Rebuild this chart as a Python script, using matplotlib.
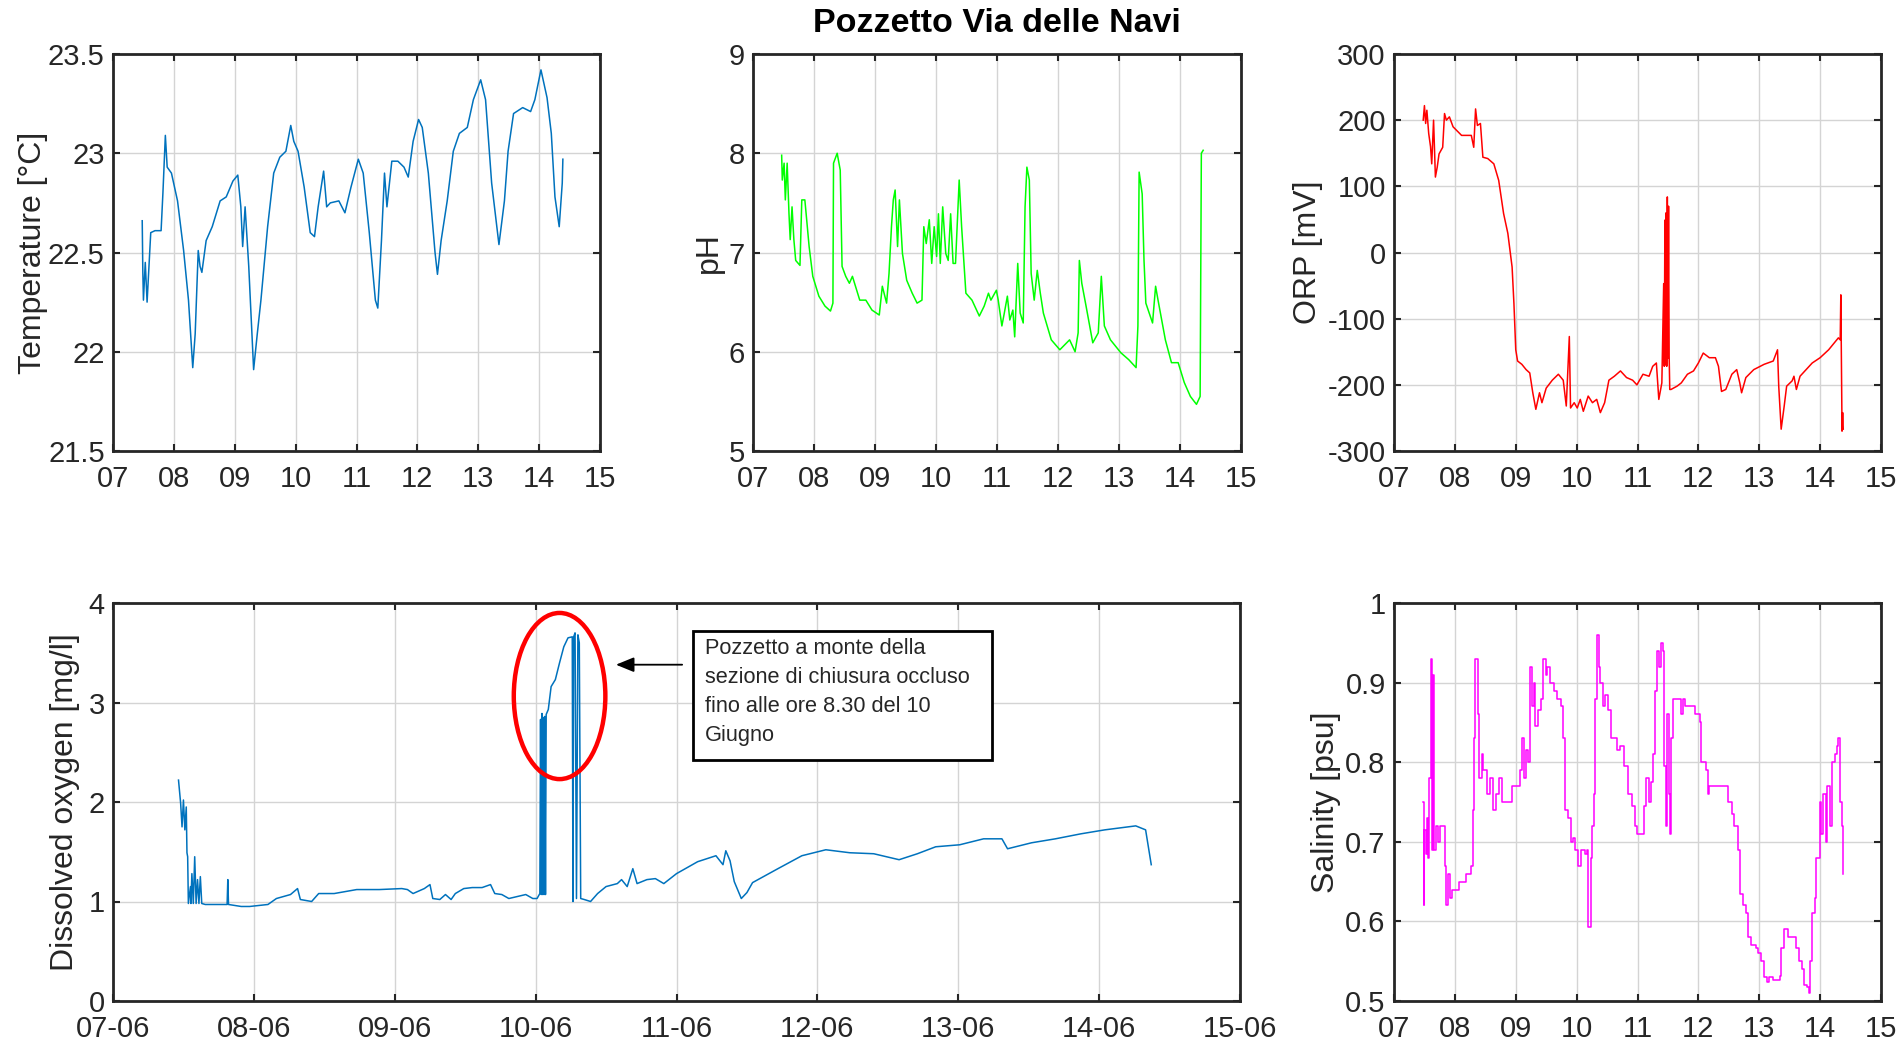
import matplotlib
matplotlib.use("Agg")
import matplotlib.pyplot as plt
from matplotlib.ticker import FuncFormatter, MultipleLocator
from matplotlib.patches import Ellipse, Rectangle

plt.rcParams.update({
    "font.family": ["Liberation Sans", "DejaVu Sans"],
    "axes.edgecolor": "#262626",
    "axes.linewidth": 2.0,
    "xtick.color": "#262626",
    "ytick.color": "#262626",
    "xtick.direction": "in",
    "ytick.direction": "in",
    "xtick.top": True,
    "ytick.right": True,
    "xtick.major.size": 5,
    "ytick.major.size": 5,
    "xtick.major.width": 1.5,
    "ytick.major.width": 1.5,
    "xtick.labelsize": 21,
    "ytick.labelsize": 21,
    "axes.labelsize": 23,
    "axes.labelcolor": "#262626",
})

# --- Data (time in days of June) ---
t_temp = [7.48, 7.49, 7.50, 7.53, 7.56, 7.62, 7.69, 7.79, 7.82, 7.86, 7.89, 7.96, 8.06, 8.16,
          8.24, 8.31, 8.35, 8.40, 8.43, 8.46, 8.53, 8.63, 8.76, 8.86, 8.97, 9.05, 9.10, 9.13,
          9.17, 9.23, 9.31, 9.37, 9.43, 9.54, 9.64, 9.74, 9.84, 9.92, 9.97, 10.04, 10.14,
          10.24, 10.31, 10.37, 10.46, 10.51, 10.57, 10.71, 10.81, 10.91, 11.03, 11.11, 11.21,
          11.31, 11.35, 11.41, 11.46, 11.50, 11.58, 11.68, 11.78, 11.85, 11.93, 12.02, 12.08,
          12.18, 12.29, 12.33, 12.39, 12.49, 12.59, 12.69, 12.82, 12.92, 13.04, 13.12, 13.22,
          13.34, 13.43, 13.49, 13.58, 13.73, 13.86, 13.93, 14.03, 14.13, 14.20, 14.26, 14.33,
          14.38, 14.39]
temperature = [22.66, 22.40, 22.26, 22.45, 22.25, 22.60, 22.61, 22.61, 22.80, 23.09, 22.93,
               22.90, 22.76, 22.51, 22.26, 21.92, 22.09, 22.51, 22.43, 22.40, 22.56, 22.63,
               22.76, 22.78, 22.86, 22.89, 22.73, 22.53, 22.73, 22.43, 21.91, 22.09, 22.26,
               22.63, 22.90, 22.98, 23.01, 23.14, 23.06, 23.01, 22.83, 22.60, 22.58, 22.73,
               22.91, 22.73, 22.75, 22.76, 22.70, 22.83, 22.97, 22.90, 22.60, 22.26, 22.22,
               22.56, 22.90, 22.73, 22.96, 22.96, 22.93, 22.88, 23.06, 23.17, 23.13, 22.90,
               22.50, 22.39, 22.56, 22.76, 23.01, 23.10, 23.13, 23.27, 23.37, 23.27, 22.85,
               22.54, 22.76, 23.01, 23.20, 23.23, 23.21, 23.27, 23.42, 23.28, 23.10, 22.78,
               22.63, 22.85, 22.97]

t_ph = [7.47, 7.48, 7.51, 7.53, 7.56, 7.59, 7.61, 7.64, 7.67, 7.70, 7.77, 7.80, 7.85, 7.88,
        7.92, 7.98, 8.08, 8.18, 8.27, 8.31, 8.32, 8.38, 8.43, 8.46, 8.52, 8.58, 8.63, 8.68,
        8.75, 8.85, 8.95, 9.07, 9.12, 9.19, 9.23, 9.27, 9.30, 9.33, 9.37, 9.40, 9.45, 9.52,
        9.61, 9.69, 9.77, 9.80, 9.84, 9.89, 9.93, 9.97, 10.01, 10.04, 10.07, 10.11, 10.16,
        10.20, 10.24, 10.28, 10.32, 10.38, 10.42, 10.49, 10.59, 10.71, 10.79, 10.86, 10.90,
        10.99, 11.02, 11.08, 11.12, 11.17, 11.21, 11.26, 11.29, 11.34, 11.38, 11.43, 11.46,
        11.49, 11.53, 11.56, 11.61, 11.66, 11.71, 11.76, 11.89, 12.03, 12.19, 12.28, 12.33,
        12.35, 12.39, 12.46, 12.57, 12.66, 12.71, 12.76, 12.86, 13.03, 13.16, 13.28, 13.31,
        13.33, 13.38, 13.41, 13.44, 13.55, 13.60, 13.64, 13.76, 13.86, 13.97, 14.07, 14.17,
        14.27, 14.33, 14.35, 14.38]
ph = [7.98, 7.73, 7.90, 7.53, 7.90, 7.39, 7.13, 7.46, 7.13, 6.92, 6.87, 7.53, 7.53, 7.33,
      7.06, 6.76, 6.56, 6.46, 6.41, 6.49, 7.90, 8.00, 7.83, 6.86, 6.76, 6.69, 6.76, 6.66,
      6.52, 6.52, 6.42, 6.37, 6.66, 6.49, 6.79, 7.26, 7.53, 7.63, 7.06, 7.53, 6.99, 6.72,
      6.59, 6.49, 6.52, 7.26, 7.09, 7.33, 6.89, 7.26, 6.96, 7.39, 6.89, 7.46, 6.99, 6.92,
      7.39, 6.89, 6.89, 7.73, 7.26, 6.59, 6.52, 6.36, 6.46, 6.59, 6.52, 6.62, 6.52, 6.26,
      6.39, 6.56, 6.32, 6.42, 6.15, 6.89, 6.39, 6.29, 7.46, 7.86, 7.73, 6.79, 6.52, 6.82,
      6.59, 6.39, 6.12, 6.02, 6.12, 6.00, 6.19, 6.92, 6.69, 6.46, 6.09, 6.19, 6.76, 6.26,
      6.12, 5.99, 5.92, 5.84, 6.26, 7.81, 7.59, 6.92, 6.49, 6.29, 6.66, 6.52, 6.12, 5.89,
      5.89, 5.69, 5.55, 5.47, 5.55, 8.00, 8.03]

t_orp = [7.48, 7.50, 7.52, 7.54, 7.57, 7.60, 7.62, 7.65, 7.68, 7.71, 7.74, 7.80, 7.83, 7.86,
         7.91, 7.97, 8.11, 8.27, 8.31, 8.34, 8.37, 8.42, 8.46, 8.54, 8.64, 8.72, 8.80, 8.87,
         8.94, 8.97, 9.00, 9.03, 9.10, 9.17, 9.23, 9.28, 9.33, 9.39, 9.43, 9.50, 9.60, 9.70,
         9.78, 9.83, 9.88, 9.90, 9.96, 10.01, 10.06, 10.11, 10.19, 10.26, 10.33, 10.39,
         10.46, 10.53, 10.62, 10.72, 10.82, 10.92, 10.99, 11.09, 11.19, 11.25, 11.31, 11.35,
         11.40, 11.43, 11.44, 11.45, 11.46, 11.47, 11.48, 11.49, 11.50, 11.51, 11.52, 11.53,
         11.55, 11.65, 11.72, 11.82, 11.92, 12.00, 12.08, 12.18, 12.28, 12.33, 12.38, 12.45,
         12.55, 12.63, 12.68, 12.71, 12.78, 12.91, 13.08, 13.23, 13.30, 13.32, 13.36, 13.41,
         13.45, 13.54, 13.57, 13.61, 13.67, 13.77, 13.87, 14.00, 14.14, 14.30, 14.33, 14.34,
         14.36, 14.37, 14.38]
orp = [200, 222, 195, 215, 180, 160, 134, 200, 114, 129, 149, 159, 210, 200, 205, 190, 177,
       177, 159, 217, 192, 195, 144, 142, 134, 109, 59, 29, -22, -77, -147, -164, -169, -177,
       -182, -212, -237, -212, -227, -205, -193, -184, -193, -232, -127, -235, -227, -235,
       -222, -240, -217, -227, -222, -242, -227, -193, -187, -179, -189, -193, -200, -184,
       -187, -172, -167, -222, -197, -47, -172, 49, -170, 60, -172, 84, -160, 70, -157,
       -207, -207, -202, -197, -184, -179, -167, -152, -159, -159, -172, -210, -207, -184,
       -177, -197, -212, -189, -177, -169, -164, -147, -202, -267, -232, -202, -194, -187,
       -207, -187, -177, -167, -159, -147, -129, -132, -64, -270, -242, -267]

t_do = [7.465, 7.48, 7.49, 7.50, 7.51, 7.52, 7.525, 7.53, 7.535, 7.55, 7.553, 7.56, 7.57,
        7.58, 7.59, 7.60, 7.61, 7.62, 7.63, 7.655, 7.72, 7.81, 7.815, 7.82, 7.91, 7.97,
        8.10, 8.16, 8.26, 8.31, 8.33, 8.41, 8.46, 8.57, 8.73, 8.89, 9.05, 9.09, 9.13, 9.21,
        9.25, 9.27, 9.32, 9.36, 9.40, 9.43, 9.49, 9.55, 9.62, 9.68, 9.71, 9.76, 9.81, 9.87,
        9.93, 9.98, 10.01, 10.03, 10.035, 10.04, 10.045, 10.05, 10.055, 10.06, 10.065,
        10.07, 10.075, 10.09, 10.11, 10.14, 10.17, 10.20, 10.23, 10.26, 10.265, 10.27,
        10.28, 10.29, 10.30, 10.31, 10.32, 10.345, 10.39, 10.44, 10.50, 10.58, 10.61,
        10.65, 10.69, 10.72, 10.79, 10.85, 10.91, 11.00, 11.15, 11.28, 11.33, 11.35, 11.38,
        11.41, 11.46, 11.50, 11.54, 11.72, 11.89, 12.06, 12.23, 12.40, 12.58, 12.71, 12.84,
        13.01, 13.18, 13.31, 13.35, 13.52, 13.69, 13.87, 14.04, 14.26, 14.33, 14.37]
dissolved_oxygen = [2.22, 1.99, 1.75, 2.02, 1.72, 1.95, 1.49, 1.45, 0.98, 1.15, 0.98, 1.28,
                    0.98, 1.45, 0.98, 1.22, 0.98, 1.25, 0.98, 0.97, 0.97, 0.97, 1.22, 0.97,
                    0.95, 0.95, 0.97, 1.03, 1.07, 1.13, 1.02, 1.00, 1.08, 1.08, 1.12, 1.12,
                    1.13, 1.12, 1.08, 1.13, 1.17, 1.03, 1.02, 1.07, 1.02, 1.08, 1.13, 1.14,
                    1.14, 1.17, 1.08, 1.07, 1.03, 1.05, 1.07, 1.03, 1.03, 1.08, 2.83, 1.07,
                    2.89, 1.07, 2.85, 1.07, 2.86, 1.07, 2.88, 2.93, 3.16, 3.23, 3.40, 3.56,
                    3.65, 3.66, 1.00, 3.66, 3.70, 1.03, 3.68, 3.60, 1.03, 1.02, 1.00, 1.08,
                    1.15, 1.18, 1.22, 1.15, 1.33, 1.18, 1.22, 1.23, 1.18, 1.28, 1.40, 1.46,
                    1.37, 1.51, 1.41, 1.20, 1.03, 1.09, 1.19, 1.33, 1.46, 1.52, 1.49, 1.48,
                    1.42, 1.48, 1.55, 1.57, 1.63, 1.63, 1.53, 1.59, 1.63, 1.68, 1.72, 1.76,
                    1.72, 1.37]

t_sal = [7.48, 7.49, 7.50, 7.52, 7.54, 7.56, 7.58, 7.60, 7.62, 7.64, 7.66, 7.69, 7.73,
         7.76, 7.81, 7.83, 7.85, 7.89, 7.92, 7.95, 8.07, 8.19, 8.26, 8.29, 8.31, 8.33, 8.36,
         8.38, 8.40, 8.44, 8.47, 8.52, 8.57, 8.62, 8.67, 8.72, 8.77, 8.87, 8.94, 9.03, 9.07,
         9.10, 9.13, 9.17, 9.20, 9.23, 9.27, 9.30, 9.32, 9.37, 9.41, 9.45, 9.49, 9.52, 9.56,
         9.63, 9.68, 9.74, 9.78, 9.81, 9.86, 9.90, 9.94, 9.98, 10.03, 10.07, 10.13, 10.17,
         10.19, 10.23, 10.25, 10.28, 10.31, 10.34, 10.36, 10.39, 10.43, 10.47, 10.51, 10.56,
         10.62, 10.67, 10.72, 10.78, 10.84, 10.91, 10.96, 10.99, 11.06, 11.11, 11.14, 11.19,
         11.22, 11.25, 11.29, 11.32, 11.35, 11.39, 11.42, 11.44, 11.47, 11.49, 11.51, 11.53,
         11.55, 11.59, 11.69, 11.72, 11.75, 11.78, 11.95, 12.02, 12.05, 12.12, 12.15, 12.18,
         12.41, 12.48, 12.55, 12.59, 12.65, 12.68, 12.73, 12.78, 12.81, 12.86, 12.94, 12.98,
         13.03, 13.08, 13.12, 13.16, 13.23, 13.34, 13.36, 13.41, 13.47, 13.57, 13.61, 13.65,
         13.71, 13.74, 13.79, 13.82, 13.84, 13.87, 13.91, 13.94, 13.97, 14.00, 14.02, 14.05,
         14.09, 14.12, 14.16, 14.19, 14.24, 14.27, 14.30, 14.32, 14.36, 14.37]
salinity = [0.75, 0.62, 0.715, 0.685, 0.73, 0.68, 0.78, 0.93, 0.69, 0.91, 0.69, 0.72, 0.70,
            0.72, 0.72, 0.67, 0.62, 0.66, 0.63, 0.64, 0.65, 0.66, 0.67, 0.74, 0.83, 0.93,
            0.93, 0.86, 0.78, 0.81, 0.79, 0.76, 0.78, 0.74, 0.76, 0.78, 0.75, 0.75, 0.77,
            0.77, 0.79, 0.83, 0.78, 0.815, 0.80, 0.92, 0.87, 0.90, 0.845, 0.865, 0.88, 0.93,
            0.91, 0.92, 0.90, 0.89, 0.88, 0.87, 0.83, 0.74, 0.73, 0.70, 0.705, 0.69, 0.67,
            0.69, 0.685, 0.69, 0.593, 0.68, 0.72, 0.76, 0.88, 0.96, 0.92, 0.90, 0.87, 0.885,
            0.865, 0.83, 0.83, 0.815, 0.82, 0.795, 0.76, 0.745, 0.72, 0.71, 0.71, 0.745,
            0.78, 0.75, 0.775, 0.81, 0.89, 0.94, 0.92, 0.95, 0.94, 0.795, 0.72, 0.86, 0.76,
            0.71, 0.83, 0.88, 0.88, 0.86, 0.88, 0.87, 0.86, 0.85, 0.80, 0.79, 0.76, 0.77,
            0.77, 0.75, 0.735, 0.72, 0.69, 0.635, 0.62, 0.61, 0.58, 0.57, 0.567, 0.56, 0.55,
            0.53, 0.524, 0.53, 0.526, 0.532, 0.567, 0.59, 0.58, 0.58, 0.567, 0.55, 0.54,
            0.52, 0.518, 0.51, 0.55, 0.61, 0.63, 0.68, 0.68, 0.75, 0.71, 0.76, 0.70, 0.77,
            0.72, 0.80, 0.81, 0.82, 0.83, 0.75, 0.72, 0.66]

note_text = ("Pozzetto a monte della\nsezione di chiusura occluso\n"
             "fino alle ore 8.30 del 10\nGiugno")

BLUE = "#0072BD"
GRID = "#d4d4d4"

fig = plt.figure(figsize=(19.03, 10.43), dpi=100)

W, H = 1903.0, 1043.0


def axes_px(left, top, right, bottom):
    return fig.add_axes([left / W, 1 - bottom / H, (right - left) / W, (bottom - top) / H])


ax_t = axes_px(113, 54, 600, 451)
ax_ph = axes_px(753, 54, 1241, 451)
ax_orp = axes_px(1394, 54, 1881, 451)
ax_do = axes_px(113, 603, 1240, 1001)
ax_sal = axes_px(1394, 603, 1881, 1001)

day_fmt = FuncFormatter(lambda v, p: f"{int(round(v)):02d}")
daymonth_fmt = FuncFormatter(lambda v, p: f"{int(round(v)):02d}-06")
num_fmt = FuncFormatter(lambda v, p: f"{v:g}")


def style(ax, fmt):
    ax.set_xlim(7, 15)
    ax.xaxis.set_major_locator(MultipleLocator(1))
    ax.xaxis.set_major_formatter(fmt)
    ax.yaxis.set_major_formatter(num_fmt)
    ax.grid(True, color=GRID, linewidth=1.0)
    ax.set_axisbelow(True)
    ax.tick_params(axis="x", pad=10)
    ax.tick_params(axis="y", pad=6)


ax_t.plot(t_temp, temperature, color=BLUE, lw=1.1)
style(ax_t, day_fmt)
ax_t.set_ylim(21.5, 23.5)
ax_t.yaxis.set_major_locator(MultipleLocator(0.5))
ax_t.set_ylabel("Temperature [°C]")
ax_t.yaxis.set_label_coords(-0.134, 0.5)

ax_ph.plot(t_ph, ph, color="#00FF00", lw=1.1)
style(ax_ph, day_fmt)
ax_ph.set_ylim(5, 9)
ax_ph.yaxis.set_major_locator(MultipleLocator(1))
ax_ph.set_ylabel("pH")
ax_ph.yaxis.set_label_coords(-0.060, 0.5)
ax_ph.set_title("Pozzetto Via delle Navi", fontsize=24.5, fontweight="bold", pad=16)

ax_orp.plot(t_orp, orp, color="#FF0000", lw=1.1)
style(ax_orp, day_fmt)
ax_orp.set_ylim(-300, 300)
ax_orp.yaxis.set_major_locator(MultipleLocator(100))
ax_orp.set_ylabel("ORP [mV]")
ax_orp.yaxis.set_label_coords(-0.145, 0.5)

ax_do.plot(t_do, dissolved_oxygen, color=BLUE, lw=1.1)
style(ax_do, daymonth_fmt)
ax_do.set_ylim(0, 4)
ax_do.yaxis.set_major_locator(MultipleLocator(1))
ax_do.set_ylabel("Dissolved oxygen [mg/l]")
ax_do.yaxis.set_label_coords(-0.029, 0.5)
ax_do.add_patch(Ellipse((10.17, 3.065), 0.65, 1.67, fill=False, edgecolor="#FF0000", lw=3.2, zorder=5))
ax_do.annotate("", xy=(10.57, 3.38), xytext=(11.04, 3.38),
               arrowprops=dict(arrowstyle="-|>,head_length=1.1,head_width=0.45",
                               color="black", lw=1.3, shrinkA=0, shrinkB=0), zorder=6)
ax_do.add_patch(Rectangle((11.12, 2.42), 2.12, 1.30, fill=True, facecolor="white",
                          edgecolor="black", lw=2.0, zorder=6))
ax_do.text(11.20, 3.65, note_text, fontsize=15.7, va="top", ha="left", linespacing=1.5,
           color="#262626", zorder=7)

ax_sal.plot(t_sal, salinity, color="#FF00FF", lw=1.1, drawstyle="steps-post")
style(ax_sal, day_fmt)
ax_sal.set_ylim(0.5, 1)
ax_sal.yaxis.set_major_locator(MultipleLocator(0.1))
ax_sal.set_ylabel("Salinity [psu]")
ax_sal.yaxis.set_label_coords(-0.108, 0.5)

fig.savefig("out.png", dpi=100, facecolor="white")
